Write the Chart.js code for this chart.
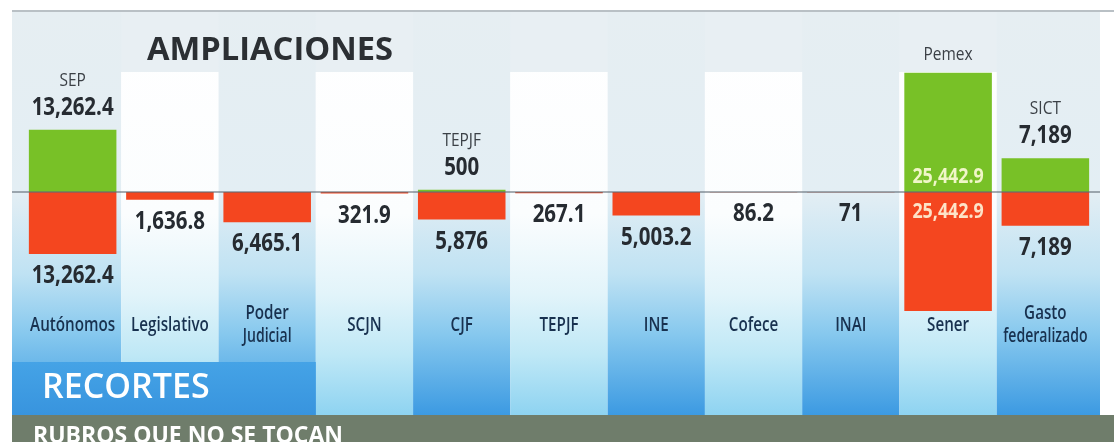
<!DOCTYPE html>
<html>
<head>
<meta charset="utf-8">
<script src="https://cdn.jsdelivr.net/npm/chart.js@4.4.1/dist/chart.umd.min.js"></script>
<style>
  html, body { margin: 0; padding: 0; background: #fff; }
  #wrap { width: 1114px; height: 442px; }
</style>
</head>
<body>
<div id="wrap"><canvas id="myChart" width="1114" height="442"></canvas></div>
<script>
// categorias (las de dos lineas como arreglo)
const categories = [['Autónomos'], ['Legislativo'], ['Poder', 'Judicial'], ['SCJN'], ['CJF'], ['TEPJF'], ['INE'], ['Cofece'], ['INAI'], ['Sener'], ['Gasto', 'federalizado']];
// ampliaciones (millones de pesos) y a quien van
const ampliaciones = [13262.4, 0, 0, 0, 500, 0, 0, 0, 0, 25442.9, 7189];
const ampliacionNames = ['SEP', '', '', '', 'TEPJF', '', '', '', '', 'Pemex', 'SICT'];
// recortes
const recortes = [-13262.4, -1636.8, -6465.1, -321.9, -5876, -267.1, -5003.2, -86.2, -71, -25442.9, -7189];

const SANS = "'Open Sans', sans-serif";
const fmt = v => Math.abs(v).toLocaleString('en-US', { maximumFractionDigits: 1 });

// texto "condensado": no hay fuente narrow instalada, se escala en x
function ctext(ctx, txt, x, y, sx) {
    ctx.save();
    ctx.translate(x, y);
    ctx.scale(sx, 1);
    ctx.fillText(txt, 0, 0);
    ctx.restore();
}

const background = {
    id: 'background',
    beforeDraw(chart) {
        const { ctx, width, height, scales: { x } } = chart;
        const colW = x.getPixelForValue(1) - x.getPixelForValue(0);
        ctx.save();
        ctx.fillStyle = '#fff';
        ctx.fillRect(0, 0, width, height);

        // franja gris de cabecera
        ctx.fillStyle = '#e8eff3';
        ctx.fillRect(12, 12, 1088, 60);

        categories.forEach((c, i) => {
            let left = x.getPixelForValue(i) - colW / 2;
            let right = x.getPixelForValue(i) + colW / 2;
            if (i === 0) left = 12;
            if (i === categories.length - 1) right = 1100;
            const g = ctx.createLinearGradient(0, 12, 0, 415);
            if (i % 2 === 0) {
                g.addColorStop(0, '#e6eef2');
                g.addColorStop(0.45, '#e3eef4');
                g.addColorStop(0.65, '#bfe2f3');
                g.addColorStop(0.8, '#86c8ee');
                g.addColorStop(1, '#3c9ae2');
                ctx.fillStyle = g;
                ctx.fillRect(left, 12, right - left, 403);
            } else {
                g.addColorStop(0, '#ffffff');
                g.addColorStop(0.5, '#fbfdfe');
                g.addColorStop(0.7, '#e2f4fa');
                g.addColorStop(0.85, '#bfe8f6');
                g.addColorStop(1, '#8ed3f1');
                ctx.fillStyle = g;
                ctx.fillRect(left, 72, right - left, 343);
            }
        });

        // bloque azul de RECORTES
        const b = ctx.createLinearGradient(0, 362, 0, 415);
        b.addColorStop(0, '#45a3e6');
        b.addColorStop(1, '#3894de');
        ctx.fillStyle = b;
        ctx.fillRect(12, 362, x.getPixelForValue(2) + colW / 2 - 12, 53);

        // banda inferior
        ctx.fillStyle = '#6f7d6b';
        ctx.fillRect(12, 415, 1102, 27);

        // linea superior
        ctx.strokeStyle = '#b9c0c5';
        ctx.lineWidth = 2;
        ctx.beginPath();
        ctx.moveTo(12, 11);
        ctx.lineTo(1114, 11);
        ctx.stroke();

        // titulos
        ctx.textAlign = 'left';
        ctx.textBaseline = 'alphabetic';
        ctx.fillStyle = '#2b2f33';
        ctx.font = "bold 33px " + SANS;
        ctx.fillText('AMPLIACIONES', 147, 60, 246);
        ctx.fillStyle = '#ffffff';
        ctx.font = "600 34px " + SANS;
        ctx.fillText('RECORTES', 42, 398, 176);
        ctx.font = "bold 23px " + SANS;
        ctx.fillText('RUBROS QUE NO SE TOCAN', 33, 443, 318);
        ctx.restore();
    }
};

const labels = {
    id: 'labels',
    afterDatasetsDraw(chart) {
        const { ctx, scales: { x, y } } = chart;
        const zero = y.getPixelForValue(0);
        ctx.save();

        // linea del cero
        ctx.strokeStyle = 'rgba(95,105,115,0.55)';
        ctx.lineWidth = 2;
        ctx.beginPath();
        ctx.moveTo(12, zero);
        ctx.lineTo(1100, zero);
        ctx.stroke();

        ctx.textAlign = 'center';
        ctx.textBaseline = 'middle';

        const metaA = chart.getDatasetMeta(0);
        ampliaciones.forEach((v, i) => {
            if (!v) return;
            const bar = metaA.data[i];
            const h = bar.base - bar.y;
            if (h > 100) {
                ctx.fillStyle = '#f0f6c8';
                ctx.font = 'bold 21px ' + SANS;
                ctext(ctx, fmt(v), bar.x, bar.base - 15, 0.85);
                ctx.fillStyle = '#3b4046';
                ctx.font = '18px ' + SANS;
                ctext(ctx, ampliacionNames[i], bar.x, bar.y - 18, 0.86);
            } else {
                ctx.fillStyle = '#262b31';
                ctx.font = 'bold 25px ' + SANS;
                ctext(ctx, fmt(v), bar.x, bar.y - 22, 0.82);
                ctx.fillStyle = '#3b4046';
                ctx.font = '18px ' + SANS;
                ctext(ctx, ampliacionNames[i], bar.x, bar.y - 49, 0.86);
            }
        });

        const metaR = chart.getDatasetMeta(1);
        recortes.forEach((v, i) => {
            const bar = metaR.data[i];
            const h = bar.y - bar.base;
            if (h > 100) {
                ctx.fillStyle = '#fde3c8';
                ctx.font = 'bold 21px ' + SANS;
                ctext(ctx, fmt(v), bar.x, bar.base + 20, 0.85);
            } else {
                ctx.fillStyle = '#262b31';
                ctx.font = 'bold 25px ' + SANS;
                ctext(ctx, fmt(v), bar.x, bar.y + 22, 0.82);
            }
        });

        // nombres de categoria
        ctx.fillStyle = '#18314f';
        ctx.font = '600 19px ' + SANS;
        categories.forEach((c, i) => {
            const cx = x.getPixelForValue(i);
            if (c.length === 1) {
                ctext(ctx, c[0], cx, 326, 0.8);
            } else {
                ctext(ctx, c[0], cx, 314, 0.8);
                ctext(ctx, c[1], cx, 337, 0.74);
            }
        });
        ctx.restore();
    }
};

const chart = new Chart(document.getElementById('myChart'), {
    type: 'bar',
    data: {
        labels: categories,
        datasets: [
            { label: 'Ampliaciones', data: ampliaciones, backgroundColor: '#78c127' },
            { label: 'Recortes', data: recortes, backgroundColor: '#f4461f' }
        ]
    },
    options: {
        responsive: false,
        animation: false,
        layout: { padding: { left: 24, right: 20, top: 0, bottom: 0 } },
        datasets: { bar: { barPercentage: 0.9, categoryPercentage: 1 } },
        plugins: { legend: { display: false }, tooltip: { enabled: false } },
        scales: {
            x: { display: false, stacked: true },
            y: { display: false, stacked: true, min: -53400, max: 41000 }
        }
    },
    plugins: [background, labels]
});
</script>
</body>
</html>
